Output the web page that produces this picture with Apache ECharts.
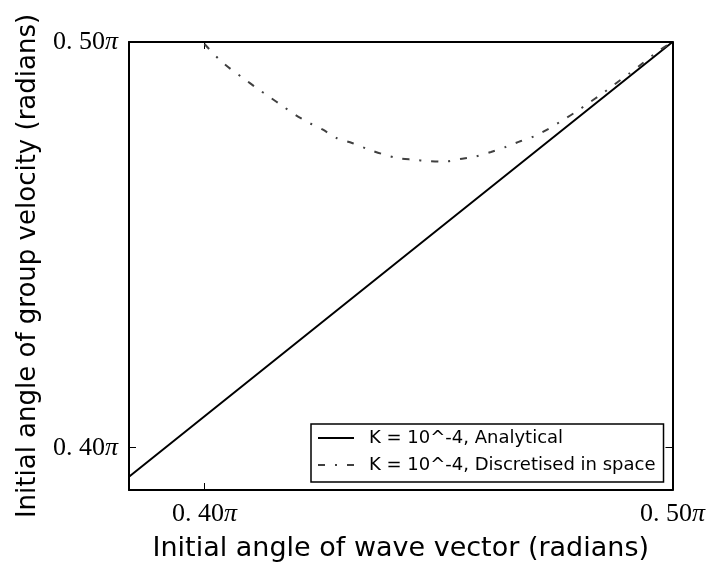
<!DOCTYPE html>
<html>
<head>
<meta charset="utf-8">
<script src="https://cdn.jsdelivr.net/npm/echarts@6/dist/echarts.min.js"></script>
<style>html,body{margin:0;padding:0;background:#fff;}#c{width:708px;height:568px;}</style>
</head>
<body>
<div id="c"></div>
<script>
// values in units of pi
var xRange = [0.38387, 0.5];
var yRange = [0.38957, 0.5];
var tickValues = [0.4, 0.5];
var tickLabels = ['0. 40', '0. 50'];
var seriesNames = ['K = 10^-4, Analytical', 'K = 10^-4, Discretised in space'];
var analyticalX = [0.38387, 0.44, 0.5];
var analyticalY = [0.39285, 0.44465, 0.5];
var discreteX = [0.4000, 0.40311, 0.40560, 0.40844, 0.41114, 0.41391, 0.41668, 0.41945, 0.42243, 0.42542, 0.42819, 0.43154, 0.43480, 0.43778, 0.44119, 0.44453, 0.44780, 0.45121, 0.45461, 0.45781, 0.46122, 0.46435, 0.46761, 0.47060, 0.47358, 0.47635, 0.47933, 0.48210, 0.48487, 0.48743, 0.49063, 0.49382, 0.49702, 0.5];
var discreteY = [0.49951, 0.49574, 0.49334, 0.49095, 0.48866, 0.48644, 0.48422, 0.48201, 0.48003, 0.47831, 0.47634, 0.47510, 0.47363, 0.47247, 0.47141, 0.47099, 0.47067, 0.47050, 0.47116, 0.47173, 0.47289, 0.47412, 0.47560, 0.47683, 0.47863, 0.48060, 0.48275, 0.48496, 0.48718, 0.48940, 0.49211, 0.49495, 0.49778, 0.5];

function zip(a, b) { return a.map(function (v, i) { return [v, b[i]]; }); }
function fmt(v) {
  var i = tickValues.findIndex(function (t) { return Math.abs(t - v) < 1e-9; });
  return i < 0 ? '' : '{n|' + tickLabels[i] + '}{p|π}';
}
var rich = {
  n: { fontFamily: 'Liberation Serif', fontSize: 26, color: '#000' },
  p: { fontFamily: 'Liberation Serif', fontStyle: 'italic', fontSize: 26, color: '#000' }
};
function axisBase(pos, range, showLabel, extra) {
  var o = {
    type: 'value', position: pos, min: range[0], max: range[1],
    splitLine: { show: false },
    axisLine: { show: true, onZero: false, lineStyle: { color: '#000', width: 2 } },
    axisTick: { show: true, inside: true, length: 7, customValues: tickValues, lineStyle: { color: '#000', width: 1 } },
    axisLabel: { show: showLabel, customValues: tickValues, formatter: fmt, rich: rich, margin: 11 }
  };
  for (var k in extra) o[k] = extra[k];
  return o;
}
var chart = echarts.init(document.getElementById('c'));
chart.setOption({
  animation: false,
  backgroundColor: '#fff',
  grid: { left: 129, right: 34, top: 42, bottom: 78 },
  xAxis: [
    axisBase('bottom', xRange, true, {
      name: 'Initial angle of wave vector (radians)', nameLocation: 'middle', nameGap: 45,
      nameTextStyle: { fontFamily: 'DejaVu Sans', fontSize: 27, color: '#000' }
    }),
    axisBase('top', xRange, false, {})
  ],
  yAxis: [
    axisBase('left', yRange, true, {
      name: 'Initial angle of group velocity (radians)', nameLocation: 'middle', nameGap: 88,
      nameTextStyle: { fontFamily: 'DejaVu Sans', fontSize: 26, color: '#000' }
    }),
    axisBase('right', yRange, false, {})
  ],
  legend: {
    left: 311, top: 424, orient: 'vertical',
    borderColor: '#000', borderWidth: 1.5, borderRadius: 0,
    padding: [5, 8, 8, 6], itemGap: 9, itemWidth: 36, itemHeight: 18,
    itemStyle: { opacity: 0 },
    textStyle: { fontFamily: 'DejaVu Sans', fontSize: 18, color: '#000', padding: [0, 0, 0, 10] },
    data: seriesNames
  },
  series: [
    {
      name: seriesNames[0], type: 'line', data: zip(analyticalX, analyticalY),
      showSymbol: false, symbol: 'none', clip: true,
      lineStyle: { color: '#000', width: 2 }, itemStyle: { color: '#000' }
    },
    {
      name: seriesNames[1], type: 'line', data: zip(discreteX, discreteY),
      showSymbol: false, symbol: 'none', clip: true, smooth: 0.3,
      lineStyle: { color: '#404040', width: 2, type: [7, 10, 2, 10] }, itemStyle: { color: '#404040' }
    }
  ]
});
</script>
</body>
</html>
